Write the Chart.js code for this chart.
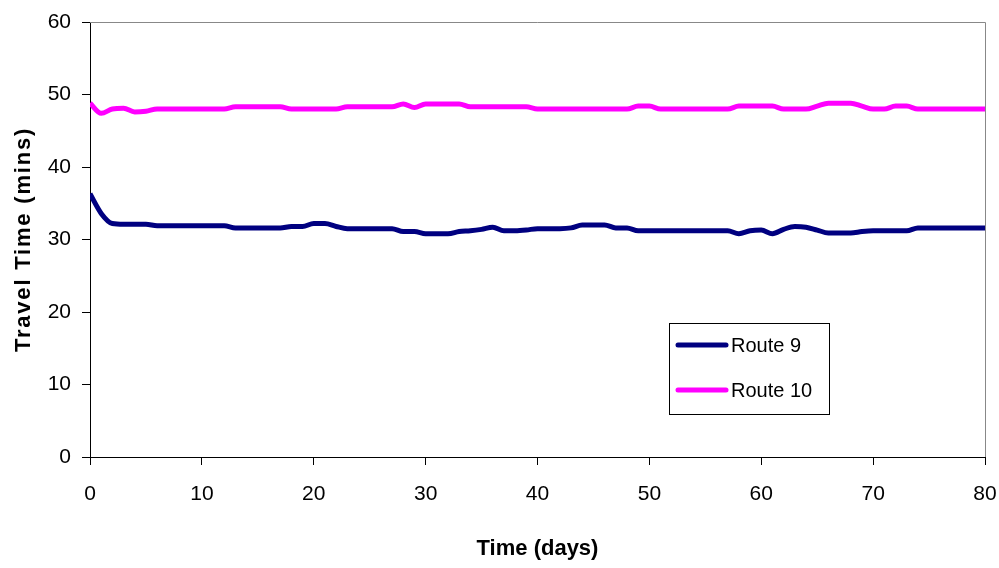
<!DOCTYPE html>
<html>
<head>
<meta charset="utf-8">
<script src="https://cdn.jsdelivr.net/npm/chart.js@4.4.1/dist/chart.umd.min.js"></script>
<style>
  html, body { margin: 0; padding: 0; background: #fff; }
  #wrap { width: 999px; height: 568px; }
</style>
</head>
<body>
<div id="wrap"><canvas id="travelChart" width="999" height="568"></canvas></div>
<script>
const days = [0, 1, 2, 3, 4, 5, 6, 7, 8, 9, 10, 11, 12, 13, 14, 15, 16, 17, 18, 19, 20,
    21, 22, 23, 24, 25, 26, 27, 28, 29, 30, 31, 32, 33, 34, 35, 36, 37, 38, 39, 40,
    41, 42, 43, 44, 45, 46, 47, 48, 49, 50, 51, 52, 53, 54, 55, 56, 57, 58, 59, 60,
    61, 62, 63, 64, 65, 66, 67, 68, 69, 70, 71, 72, 73, 74, 75, 76, 77, 78, 79, 80];

const route9 = [36.3, 33.6, 32.2, 32.1, 32.1, 32.1, 31.9, 31.9, 31.9, 31.9, 31.9,
    31.9, 31.9, 31.6, 31.6, 31.6, 31.6, 31.6, 31.8, 31.8, 32.2,
    32.2, 31.8, 31.5, 31.5, 31.5, 31.5, 31.5, 31.1, 31.1, 30.8,
    30.8, 30.8, 31.1, 31.2, 31.4, 31.7, 31.2, 31.2, 31.3, 31.5,
    31.5, 31.5, 31.6, 32.0, 32.0, 32.0, 31.6, 31.6, 31.2, 31.2,
    31.2, 31.2, 31.2, 31.2, 31.2, 31.2, 31.2, 30.8, 31.2, 31.3,
    30.8, 31.4, 31.8, 31.7, 31.3, 30.9, 30.9, 30.9, 31.1, 31.2,
    31.2, 31.2, 31.2, 31.6, 31.6, 31.6, 31.6, 31.6, 31.6, 31.6];

const route10 = [48.8, 47.4, 48.0, 48.1, 47.6, 47.7, 48.0, 48.0, 48.0, 48.0, 48.0,
    48.0, 48.0, 48.3, 48.3, 48.3, 48.3, 48.3, 48.0, 48.0, 48.0,
    48.0, 48.0, 48.3, 48.3, 48.3, 48.3, 48.3, 48.7, 48.2, 48.7,
    48.7, 48.7, 48.7, 48.3, 48.3, 48.3, 48.3, 48.3, 48.3, 48.0,
    48.0, 48.0, 48.0, 48.0, 48.0, 48.0, 48.0, 48.0, 48.4, 48.4,
    48.0, 48.0, 48.0, 48.0, 48.0, 48.0, 48.0, 48.4, 48.4, 48.4,
    48.4, 48.0, 48.0, 48.0, 48.4, 48.8, 48.8, 48.8, 48.4, 48.0,
    48.0, 48.4, 48.4, 48.0, 48.0, 48.0, 48.0, 48.0, 48.0, 48.0];

const seriesNames = ["Route 9", "Route 10"];
const xTitle = "Time (days)";
const yTitle = "Travel Time (mins)";

const FONT = "'Liberation Sans', Arial, sans-serif";

function toPoints(values) {
    return days.map((d, i) => ({ x: d, y: values[i] }));
}

// gray box on top/right of plot area, like the excel frame
const frame = {
    id: "frame",
    afterDraw(chart) {
        const { ctx, chartArea: a } = chart;
        ctx.save();
        ctx.strokeStyle = "#888";
        ctx.lineWidth = 1;
        ctx.beginPath();
        ctx.moveTo(a.left, a.top + 0.5);
        ctx.lineTo(a.right + 0.5, a.top + 0.5);
        ctx.lineTo(a.right + 0.5, a.bottom);
        ctx.stroke();
        ctx.restore();
    }
};

// rotated y title with letter spacing
const yTitlePlugin = {
    id: "yTitle",
    afterDraw(chart) {
        const { ctx, chartArea: a } = chart;
        ctx.save();
        ctx.translate(24, (a.top + a.bottom) / 2);
        ctx.rotate(-Math.PI / 2);
        ctx.font = "bold 22px " + FONT;
        ctx.letterSpacing = "1.8px";
        ctx.fillStyle = "#000";
        ctx.textAlign = "center";
        ctx.textBaseline = "middle";
        ctx.fillText(yTitle, 0, 0);
        ctx.restore();
    }
};

// boxed legend inside the plot
const boxLegend = {
    id: "boxLegend",
    afterDraw(chart) {
        const ctx = chart.ctx;
        const bx = 669, by = 323, bw = 160, bh = 91;
        ctx.save();
        ctx.fillStyle = "#fff";
        ctx.fillRect(bx, by, bw, bh);
        ctx.strokeStyle = "#000";
        ctx.lineWidth = 1;
        ctx.strokeRect(bx + 0.5, by + 0.5, bw, bh);
        ctx.font = "20px " + FONT;
        ctx.textBaseline = "middle";
        chart.data.datasets.forEach((ds, i) => {
            const y = by + 22 + i * 45;
            ctx.strokeStyle = ds.borderColor;
            ctx.lineWidth = 5;
            ctx.lineCap = "round";
            ctx.beginPath();
            ctx.moveTo(bx + 9, y);
            ctx.lineTo(bx + 57, y);
            ctx.stroke();
            ctx.fillStyle = "#000";
            ctx.fillText(ds.label, bx + 62, y + 1);
        });
        ctx.restore();
    }
};

const ctx = document.getElementById("travelChart").getContext("2d");
const travelChart = new Chart(ctx, {
    type: "line",
    data: {
        datasets: [{
            label: seriesNames[0],
            data: toPoints(route9),
            borderColor: "#000080",
            borderWidth: 5,
            pointRadius: 0,
            cubicInterpolationMode: "monotone",
            fill: false
        }, {
            label: seriesNames[1],
            data: toPoints(route10),
            borderColor: "#ff00ff",
            borderWidth: 5,
            pointRadius: 0,
            cubicInterpolationMode: "monotone",
            fill: false
        }]
    },
    options: {
        responsive: false,
        animation: false,
        layout: { padding: { top: 22, right: 14, left: 0, bottom: 0 } },
        plugins: {
            legend: { display: false },
            tooltip: { enabled: false }
        },
        scales: {
            x: {
                type: "linear",
                min: 0,
                max: 80,
                ticks: {
                    stepSize: 10,
                    color: "#000",
                    padding: 17,
                    maxRotation: 0,
                    font: { family: FONT, size: 21 }
                },
                grid: { drawOnChartArea: false, tickLength: 8, color: "#000" },
                border: { color: "#000", width: 1 },
                title: {
                    display: true,
                    text: xTitle,
                    color: "#000",
                    font: { family: FONT, size: 22, weight: "bold" },
                    padding: { top: 0, bottom: 6 }
                },
                afterFit(scale) {
                    scale.height = 111;
                    scale.paddingLeft = 0;
                    scale.paddingRight = 0;
                }
            },
            y: {
                min: 0,
                max: 60,
                ticks: {
                    stepSize: 10,
                    color: "#000",
                    padding: 11,
                    font: { family: FONT, size: 21 }
                },
                grid: { drawOnChartArea: false, tickLength: 8, color: "#000" },
                border: { color: "#000", width: 1 },
                afterFit(scale) {
                    scale.width = 90;
                    scale.paddingTop = 0;
                    scale.paddingBottom = 0;
                }
            }
        }
    },
    plugins: [frame, yTitlePlugin, boxLegend]
});
</script>
</body>
</html>
